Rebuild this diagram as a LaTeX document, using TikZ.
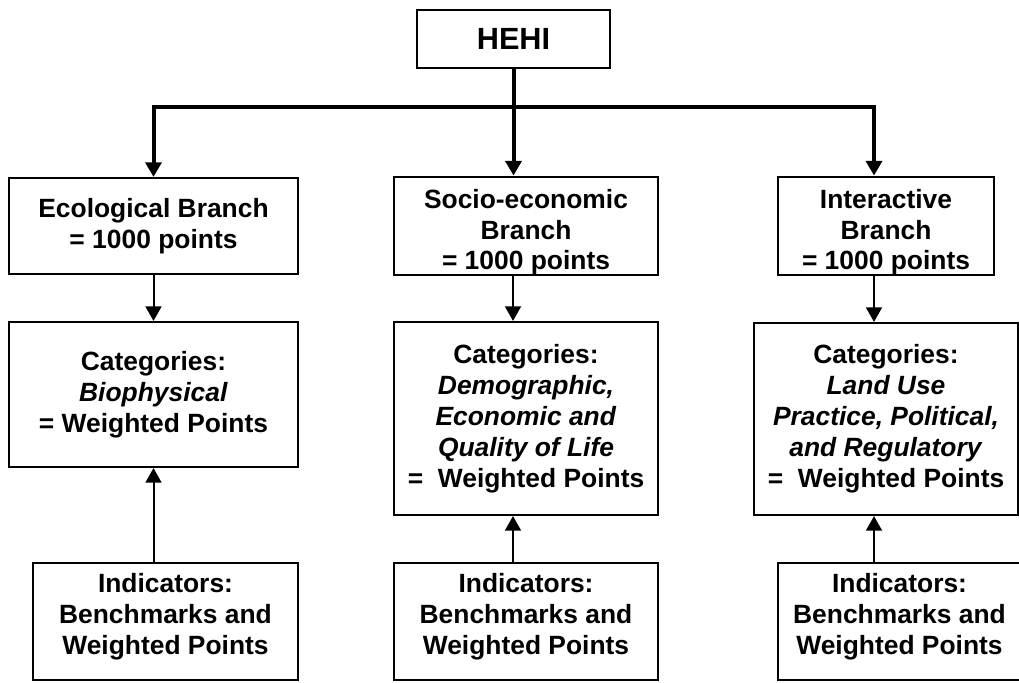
\documentclass[tikz,border=0pt]{standalone}
\usepackage{fontspec}
\setmainfont{Liberation Sans}
\usetikzlibrary{arrows.meta}

\tikzset{every picture/.style={line width=0.75pt}}
\tikzset{
  boxnode/.style={draw, line width=1.6pt, align=center, inner sep=0pt,
    font=\bfseries\fontsize{19.8}{23.2}\selectfont},
  lowtext/.style={text height=70pt},
  hightext/.style={text depth=11.5pt},
  mainarrow/.style={line width=3pt, -{Triangle[length=11pt,width=12pt]}},
  subarrow/.style={line width=1.5pt, -{Triangle[length=11pt,width=12pt]}},
}

\begin{document}
\begin{tikzpicture}[x=0.75pt,y=0.75pt,yscale=-1,xscale=1]
		\useasboundingbox (0,0) rectangle (1019,682);
		\clip (0,0) rectangle (1019,682);

		%Shape: Rectangle [id:hehi]
		\node[boxnode, minimum width=144.75pt, minimum height=43.5pt,
		  font=\bfseries\fontsize{23}{28}\selectfont] (hehi) at (513.5,39) {HEHI};

		%Shape: Rectangle [id:branches]
		\node[boxnode, minimum width=216.75pt, minimum height=72pt] (eco) at (153.5,226)
		  {Ecological Branch\\= 1000 points};
		\node[boxnode, lowtext, minimum width=198pt, minimum height=72pt] (socio) at (526,226)
		  {Socio-economic\\Branch\\= 1000 points};
		\node[boxnode, lowtext, minimum width=162pt, minimum height=72pt] (inter) at (886,226)
		  {Interactive\\Branch\\= 1000 points};

		%Shape: Rectangle [id:categories]
		\node[boxnode, minimum width=216.75pt, minimum height=108.75pt] (ecoCat) at (153.5,394.5)
		  {Categories:\\\textit{Biophysical}\\= Weighted Points};
		\node[boxnode, minimum width=198pt, minimum height=144.75pt] (socCat) at (526,418.5)
		  {Categories:\\\textit{Demographic,}\\\textit{Economic and}\\\textit{Quality of Life}\\=\ \ Weighted Points};
		\node[boxnode, minimum width=198pt, minimum height=144pt] (intCat) at (886,419)
		  {Categories:\\\textit{Land Use}\\\textit{Practice, Political,}\\\textit{and Regulatory}\\=\ \ Weighted Points};

		%Shape: Rectangle [id:indicators]
		\node[boxnode, hightext, minimum width=198.75pt, minimum height=87.75pt] (ecoInd) at (165.5,621.5)
		  {Indicators:\\Benchmarks and\\Weighted Points};
		\node[boxnode, hightext, minimum width=198pt, minimum height=87.75pt] (socInd) at (526,621.5)
		  {Indicators:\\Benchmarks and\\Weighted Points};
		\node[boxnode, hightext, minimum width=182.25pt, minimum height=87.75pt] (intInd) at (899.5,621.5)
		  {Indicators:\\Benchmarks and\\Weighted Points};

		% Connectors
		\coordinate (bar) at (513,107);
		\coordinate (barR) at (874,107);
		\draw[mainarrow] (hehi.south) -- (hehi.south |- socio.north);
		\draw[mainarrow, {Triangle[length=11pt,width=12pt]}-{Triangle[length=11pt,width=12pt]}]
		  (barR |- inter.north) -- (barR) -| (eco.north);

		\draw[subarrow] (eco.south) -- (ecoCat.north);
		\draw[subarrow] (eco.south |- ecoInd.north) -- (eco.south |- ecoCat.south);
		\draw[subarrow] (bar |- socio.south) -- (bar |- socCat.north);
		\draw[subarrow] (bar |- socInd.north) -- (bar |- socCat.south);
		\draw[subarrow] (barR |- inter.south) -- (barR |- intCat.north);
		\draw[subarrow] (barR |- intInd.north) -- (barR |- intCat.south);

	\end{tikzpicture}
\end{document}
